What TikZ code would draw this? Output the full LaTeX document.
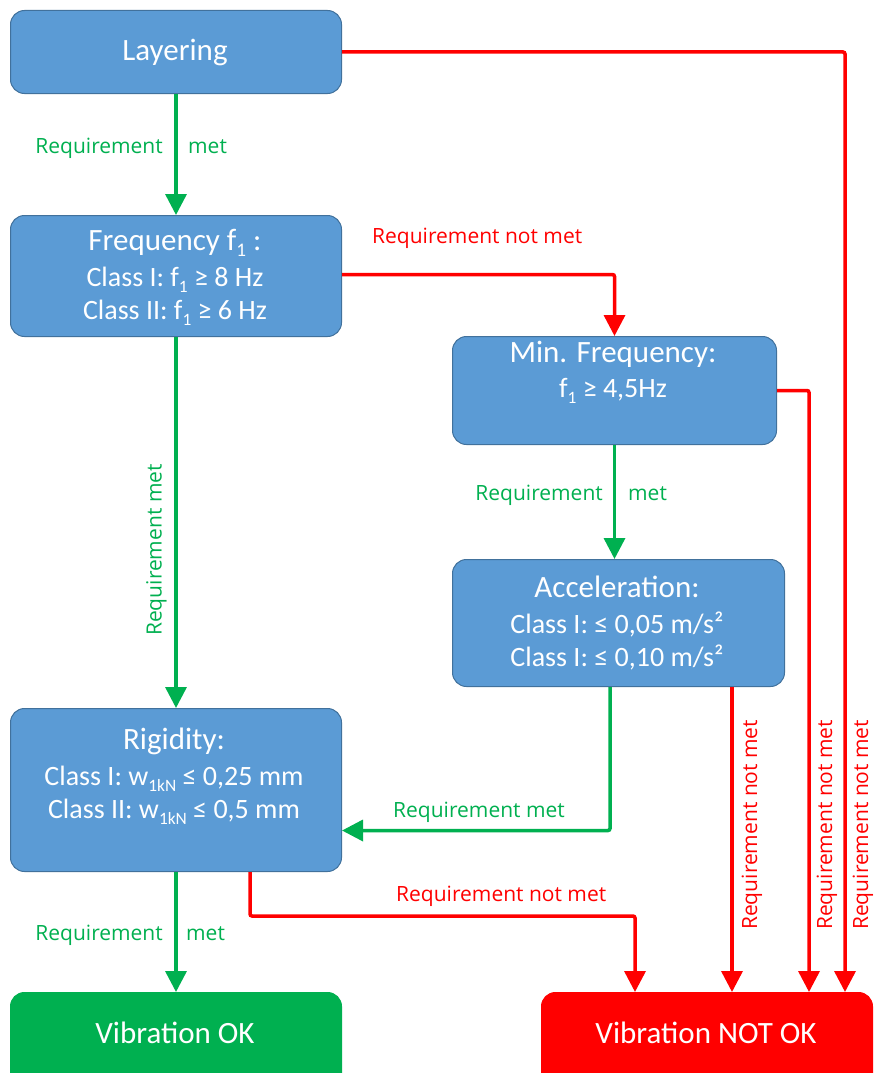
\documentclass[tikz,border=0pt]{standalone}
\usepackage{graphicx}
\usepackage{fontspec}
\setmainfont{Carlito}
\newfontfamily\lblfont{Open Sans}
\usetikzlibrary{arrows.meta}
\definecolor{boxblue}{HTML}{5B9BD5}
\definecolor{boxedge}{HTML}{41719C}
\definecolor{okgreen}{HTML}{00B050}
\definecolor{nokred}{HTML}{FF0000}
\newcommand\subsc[1]{\raisebox{-0.22em}{\scalebox{0.62}{#1}}}
\begin{document}
\begin{tikzpicture}[x=1pt,y=-1pt,
  blk/.style={draw=boxedge, line width=1pt, fill=boxblue, rounded corners=14pt, anchor=north west, inner sep=0pt},
  ttl/.style={text=white, font=\fontsize{31}{37}\selectfont, inner sep=0pt, anchor=base},
  subl/.style={text=white, font=\fontsize{28}{33}\selectfont, inner sep=0pt, anchor=base},
  lbl/.style={font=\lblfont\fontsize{21}{25}\selectfont, inner sep=0pt},
  gl/.style={lbl, text=okgreen},
  rl/.style={lbl, text=nokred},
  garr/.style={draw=okgreen, line width=3.5pt, -{Triangle[length=21pt,width=21pt]}, rounded corners=2pt},
  rarr/.style={draw=nokred, line width=3.5pt, -{Triangle[length=21pt,width=21pt]}, rounded corners=2pt}]
\useasboundingbox (0,0) rectangle (874,1073);
\fill[white] (0,0) rectangle (874,1073);
\clip (0,0) rectangle (874,1073);
% boxes
\node[blk, minimum width=331pt, minimum height=83pt] (lay) at (10,10) {};
\node[blk, minimum width=331pt, minimum height=121pt] (frq) at (10,215) {};
\node[blk, minimum width=324pt, minimum height=108pt] (minf) at (452,336) {};
\node[blk, minimum width=332pt, minimum height=127pt] (acc) at (452,559) {};
\node[blk, minimum width=331pt, minimum height=163pt] (rig) at (10,708) {};
\node[blk, draw=okgreen, fill=okgreen, minimum width=331pt, minimum height=110pt] (vok) at (10,992) {};
\node[blk, draw=nokred, fill=nokred, minimum width=331pt, minimum height=110pt] (vnot) at (541,992) {};
% box texts
\node[ttl] (layT) at (175,61) {Layering};
\node[ttl] (frqT) at (175,250) {Frequency f\subsc{1} :};
\node[subl] (frqA) at (175,286) {Class I: f\subsc{1} ≥ 8 Hz};
\node[subl] (frqB) at (175,319) {Class II: f\subsc{1} ≥ 6 Hz};
\node[ttl] (minfT) at (613,362.7) {Min. Frequency:};
\node[subl] (minfA) at (613,397) {f\subsc{1} ≥ 4,5Hz};
\node[ttl] (accT) at (617,597) {Acceleration:};
\node[subl] (accA) at (617,633) {Class I: ≤ 0,05 m/s²};
\node[subl] (accB) at (617,666) {Class I: ≤ 0,10 m/s²};
\node[ttl] (rigT) at (174,749) {Rigidity:};
\node[subl] (rigA) at (174,785) {Class I: w\subsc{1kN} ≤ 0,25 mm};
\node[subl] (rigB) at (174,818) {Class II: w\subsc{1kN} ≤ 0,5 mm};
\node[ttl] (vokT) at (175,1043) {Vibration OK};
\node[ttl] (vnotT) at (706,1043) {Vibration NOT OK};
% connectors
\draw[garr] (lay.south) -- (frq.north);
\draw[rarr] (lay.east) -| ([xshift=304pt]vnot.north west);
\draw[rarr] ([yshift=1.5pt]frq.east) -| (minf.north);
\draw[garr] (frq.south) -- (rig.north);
\draw[rarr] (minf.east) -| ([xshift=268pt]vnot.north west);
\draw[garr] (minf.south) -- (minf.south |- acc.north);
\draw[garr] ([xshift=158pt]acc.south west) |- ([yshift=-40.5pt]rig.east);
\draw[rarr] ([xshift=280pt]acc.south west) -- ([xshift=191pt]vnot.north west);
\draw[garr] (rig.south) -- (vok.north);
\draw[rarr] ([xshift=240pt]rig.south west) -- ++(0,44) -| ([xshift=94pt]vnot.north west);
% labels
\node[gl, anchor=base east] (l1a) at (163,153) {Requirement};
\node[gl, anchor=base west] (l1b) at (188,153) {met};
\node[rl, anchor=base west] (l2) at (372,243) {Requirement not met};
\node[gl, anchor=base west, rotate=90] (l3) at (161.5,636) {Requirement met};
\node[gl, anchor=base east] (l4a) at (603,500) {Requirement};
\node[gl, anchor=base west] (l4b) at (628,500) {met};
\node[gl, anchor=base west] (l5) at (393,817) {Requirement met};
\node[rl, anchor=base west] (l6) at (396,901.5) {Requirement not met};
\node[gl, anchor=base east] (l7a) at (163,940) {Requirement};
\node[gl, anchor=base west] (l7b) at (186,940) {met};
\node[rl, anchor=base west, rotate=90] (l8) at (757,930) {Requirement not met};
\node[rl, anchor=base west, rotate=90] (l9) at (832,930) {Requirement not met};
\node[rl, anchor=base west, rotate=90] (l10) at (868,930) {Requirement not met};
\end{tikzpicture}
\end{document}
